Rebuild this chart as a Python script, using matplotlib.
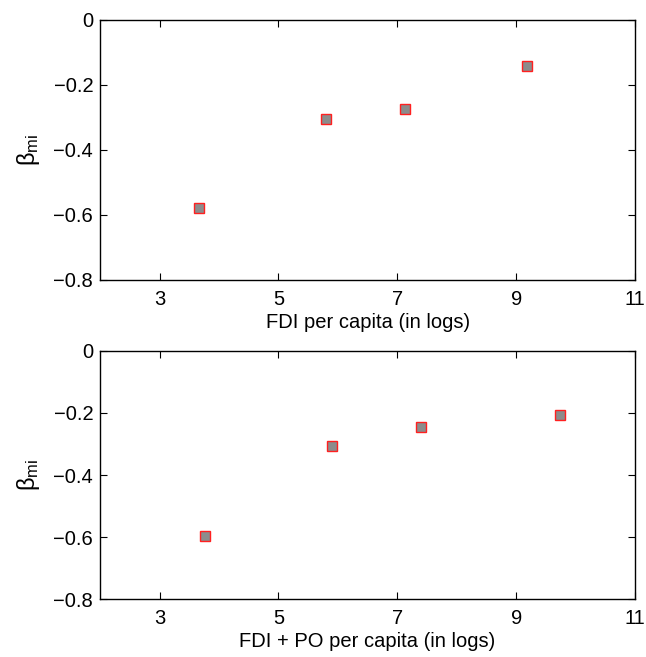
import matplotlib
matplotlib.use("Agg")
import matplotlib.pyplot as plt
from matplotlib.ticker import FuncFormatter

# values
fdi_x = [3.66, 5.80, 7.13, 9.18]
fdi_beta = [-0.578, -0.304, -0.273, -0.142]

fdipo_x = [3.77, 5.90, 7.40, 9.73]
fdipo_beta = [-0.597, -0.308, -0.245, -0.206]

x_ticks = [3, 5, 7, 9, 11]
y_ticks = [0, -0.2, -0.4, -0.6, -0.8]

plt.rcParams["font.family"] = ["Liberation Sans", "DejaVu Sans"]
plt.rcParams["mathtext.fontset"] = "custom"
plt.rcParams["mathtext.rm"] = "Liberation Sans"
plt.rcParams["mathtext.it"] = "Liberation Sans:italic"
plt.rcParams["font.size"] = 14.5


def yfmt(v, pos):
    s = "%g" % round(v, 2)
    return s.replace("-", "\u2212")


fig = plt.figure(figsize=(6.46, 6.57), dpi=100)
ax_top = fig.add_axes([0.155, 0.574, 0.828, 0.3956])
ax_bot = fig.add_axes([0.155, 0.088, 0.828, 0.378])

panels = [
    (ax_top, fdi_x, fdi_beta, "FDI per capita (in logs)"),
    (ax_bot, fdipo_x, fdipo_beta, "FDI + PO per capita (in logs)"),
]

for ax, xs, ys, xlabel in panels:
    ax.plot(xs, ys, linestyle="none", marker="s", markersize=7,
            markerfacecolor="#8c8c8c", markeredgecolor="#ff2020",
            markeredgewidth=1.0)
    ax.set_xlim(2, 11)
    ax.set_ylim(-0.8, 0)
    ax.set_xticks(x_ticks)
    ax.set_yticks(y_ticks)
    ax.yaxis.set_major_formatter(FuncFormatter(yfmt))
    ax.tick_params(direction="in", top=True, right=True, length=5, width=0.8)
    ax.tick_params(axis="x", pad=7)
    ax.tick_params(axis="y", pad=5)
    for sp in ax.spines.values():
        sp.set_linewidth(1.0)
    ax.set_xlabel(xlabel, labelpad=3)
    ax.set_ylabel(r"$\mathrm{\beta_{mi}}$", fontsize=17, labelpad=8)

fig.savefig("out.png", dpi=100)
